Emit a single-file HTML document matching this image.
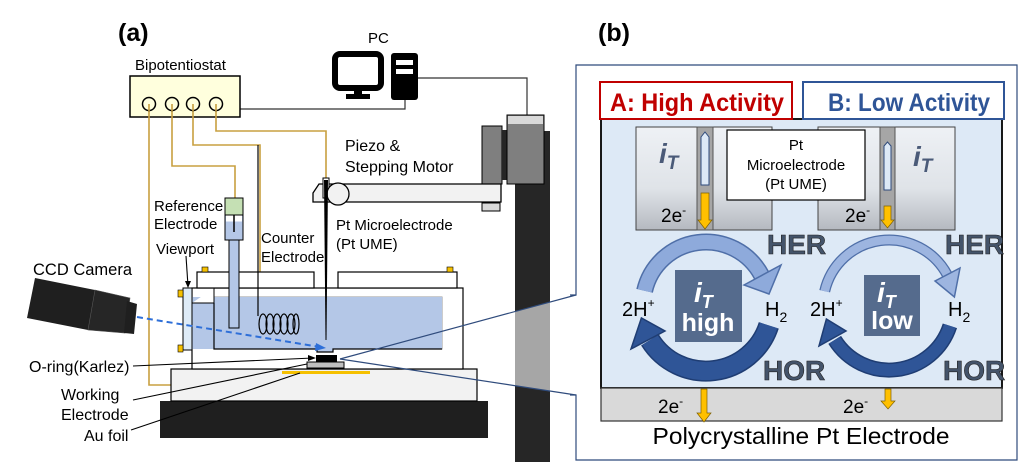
<!DOCTYPE html>
<html><head><meta charset="utf-8"><style>
html,body{margin:0;padding:0;background:#fff;}
svg{display:block;font-family:"Liberation Sans",sans-serif;}
</style></head><body>
<svg width="1032" height="475" viewBox="0 0 1032 475" xmlns="http://www.w3.org/2000/svg">
<defs>
<linearGradient id="ume" x1="0" y1="0" x2="0" y2="1">
<stop offset="0" stop-color="#eef1f5"/><stop offset="0.6" stop-color="#dfe3e8"/><stop offset="1" stop-color="#b5b9c0"/>
</linearGradient>
</defs>
<rect width="1032" height="475" fill="#fff"/>

<!-- ===== Panel (a) ===== -->
<text x="118" y="41" font-size="25" font-weight="bold">(a)</text>
<text x="368" y="43" font-size="15">PC</text>
<rect x="335" y="54" width="46" height="34" rx="5" fill="none" stroke="#000" stroke-width="6"/>
<rect x="354" y="90" width="8" height="6" fill="#000"/>
<rect x="346" y="94" width="24" height="5" fill="#000"/>
<rect x="391" y="53" width="27" height="47" rx="3" fill="#000"/>
<rect x="396" y="60" width="17" height="5" fill="#fff"/>
<rect x="396" y="69" width="17" height="5" fill="#fff"/>
<polyline points="240,109 405,109 405,100" fill="none" stroke="#333" stroke-width="1.2"/>
<polyline points="418,78 527,78 527,115" fill="none" stroke="#333" stroke-width="1.2"/>

<text x="135" y="70" font-size="15">Bipotentiostat</text>
<rect x="130" y="76" width="110" height="41" fill="#ffffdd" stroke="#000" stroke-width="1.5"/>
<g fill="none" stroke="#c8a040" stroke-width="1.6">
<polyline points="149,110 149,385 328,385 328,370"/>
<polyline points="172,110 172,166 235,166 235,198"/>
<polyline points="193,110 193,145 260,145 260,316"/>
<polyline points="216,110 216,131 326,131 326,180"/>
</g>
<g fill="#ffffdd" stroke="#000" stroke-width="1.5">
<circle cx="149" cy="104" r="6.5"/><circle cx="172" cy="104" r="6.5"/>
<circle cx="193" cy="104" r="6.5"/><circle cx="216" cy="104" r="6.5"/>
</g>
<path d="M149 104V111M172 104V111M193 104V111M216 104V111" stroke="#c8a040" stroke-width="1.6"/>

<!-- stand -->
<rect x="515" y="131" width="35" height="331" fill="#262626"/>
<polygon points="515,311.5 550,302 550,391 515,385.7" fill="#a6a6a6"/>
<rect x="482" y="126" width="20" height="58" fill="#7f7f7f" stroke="#000"/>
<rect x="502" y="130" width="6" height="50" fill="#262626"/>
<rect x="507" y="115" width="37" height="69" fill="#7f7f7f" stroke="#000"/>
<rect x="508" y="116" width="35" height="8" fill="#d9d9d9"/>
<path d="M313 193 L319 184 L501 184 L501 202 L313 202 Z" fill="#f2f2f2" stroke="#000" stroke-width="1.3"/>
<rect x="482" y="203" width="18" height="8" fill="#d9d9d9" stroke="#000"/>
<rect x="323" y="178" width="6" height="20" fill="#fff" stroke="#000"/>
<circle cx="338" cy="194" r="11" fill="#f2f2f2" stroke="#000" stroke-width="1.3"/>
<text font-size="16" x="345" y="151">Piezo &amp;</text>
<text font-size="16" x="345" y="172">Stepping Motor</text>

<!-- cell base -->
<rect x="160" y="401" width="328" height="37" fill="#1f1f1f"/>
<rect x="171" y="369" width="306" height="32" fill="#f2f2f2" stroke="#000" stroke-width="1.2"/>
<rect x="192" y="288" width="271" height="81" fill="#fff" stroke="#000" stroke-width="1.2"/>
<rect x="214" y="297" width="228" height="52" fill="#dbe5f3" stroke="#999"/>
<path d="M192 297 H442 V330 H214 V349 H192Z" fill="#b4c7e7"/>
<path d="M214 297 H442 V349 H333 V352 H317 V349 H214Z" fill="#b4c7e7"/>
<path d="M192 303 H214 V288" fill="#fff" stroke="#000"/>
<polyline points="214,303 214,349 317,349 317,352 333,352 333,349 442,349" fill="none" stroke="#000" stroke-width="1.2"/>
<rect x="197" y="272" width="117" height="16" fill="#fff" stroke="#000" stroke-width="1.2"/>
<rect x="338" y="272" width="119" height="16" fill="#fff" stroke="#000" stroke-width="1.2"/>
<rect x="202" y="267" width="6" height="5" fill="#f5c000" stroke="#000" stroke-width="0.6"/>
<rect x="447" y="267" width="6" height="5" fill="#f5c000" stroke="#000" stroke-width="0.6"/>
<rect x="183" y="288" width="9" height="62" fill="#deebf7" stroke="#000"/>
<rect x="178" y="290" width="5" height="7" fill="#f5c000" stroke="#000" stroke-width="0.6"/>
<rect x="178" y="345" width="5" height="7" fill="#f5c000" stroke="#000" stroke-width="0.6"/>
<!-- ref electrode -->
<rect x="225" y="215" width="18" height="25" fill="#b4c7e7" stroke="#000"/>
<rect x="226" y="215.5" width="16" height="6" fill="#fff"/>
<rect x="229" y="240" width="10" height="88" fill="#b4c7e7" stroke="#000"/>
<line x1="234" y1="214" x2="234" y2="232" stroke="#000" stroke-width="1.5"/>
<rect x="225" y="198" width="18" height="17" fill="#c5e0b4" stroke="#000"/>
<!-- counter coil -->
<line x1="258" y1="145" x2="258" y2="316" stroke="#000" stroke-width="1.2"/>
<g fill="none" stroke="#000" stroke-width="1.2">
<ellipse cx="263" cy="324" rx="4" ry="10"/><ellipse cx="270" cy="324" rx="4" ry="10"/>
<ellipse cx="277" cy="324" rx="4" ry="10"/><ellipse cx="284" cy="324" rx="4" ry="10"/>
<ellipse cx="291" cy="324" rx="4" ry="10"/><ellipse cx="296" cy="324" rx="3" ry="10"/>
</g>
<path d="M324 180 L328 180 L326.5 340 L325.5 340Z" fill="#000"/>
<rect x="316" y="355" width="21" height="7" fill="#000"/>
<rect x="307" y="362" width="37" height="6" fill="#bfbfbf" stroke="#000"/>
<rect x="282" y="371" width="88" height="3" fill="#f5c000"/>
<!-- camera -->
<polygon points="35,278 95,290 88,330 27,318" fill="#1f1f1f"/>
<polygon points="95,290 130,298 125,333 88,330" fill="#262626" stroke="#555" stroke-width="0.6"/>
<polygon points="127,301 137,304 134,334 124,333" fill="#1f1f1f"/>
<line x1="137" y1="317" x2="320" y2="347" stroke="#2e6fd8" stroke-width="2" stroke-dasharray="6,4"/>
<polygon points="326,348 316,343 315,351" fill="#2e6fd8"/>
<g font-size="15">
<text x="154" y="211">Reference</text><text x="154" y="229">Electrode</text>
<text x="156" y="254">Viewport</text>
<text x="261" y="243">Counter</text><text x="261" y="262">Electrode</text>
<text x="336" y="230">Pt Microelectrode</text><text x="336" y="249">(Pt UME)</text>
<text x="33" y="275" font-size="16.5">CCD Camera</text>
<text x="29" y="372" font-size="16">O-ring(Karlez)</text>
<text x="61" y="400" font-size="16">Working</text>
<text x="61" y="420" font-size="16">Electrode</text>
<text x="84" y="441" font-size="16">Au foil</text>
</g>
<g stroke="#000" stroke-width="1.1" fill="none">
<line x1="186" y1="256" x2="188" y2="286"/>
<line x1="133" y1="366" x2="313" y2="358"/>
<line x1="133" y1="400" x2="307" y2="364"/>
<line x1="131" y1="430" x2="300" y2="373"/>
</g>
<polygon points="188,288 185,281 191,281" fill="#000"/>
<polygon points="316,358 308,355 308,361" fill="#000"/>
<g stroke="#2f4b7c" stroke-width="1.2" fill="none">
<line x1="340" y1="359" x2="576" y2="295"/>
<line x1="340" y1="359" x2="576" y2="395"/>
<polyline points="570,295 576,295 576,65 1017,65 1017,460 576,460 576,395 570,395"/>
</g>

<!-- ===== Panel (b) ===== -->
<text x="598" y="41" font-size="25" font-weight="bold">(b)</text>
<rect x="601" y="119" width="401" height="269" fill="#dde9f6" stroke="#000" stroke-width="1.8"/>
<rect x="601" y="388" width="401" height="33" fill="#d9d9d9" stroke="#333" stroke-width="1.2"/>
<rect x="600" y="82" width="192" height="37" fill="#fff" stroke="#c00000" stroke-width="2"/>
<rect x="803" y="82" width="201" height="37" fill="#fff" stroke="#2f5597" stroke-width="2"/>
<text x="610" y="111" font-size="25" font-weight="bold" fill="#c00000" textLength="174" lengthAdjust="spacingAndGlyphs">A: High Activity</text>
<text x="828" y="111" font-size="25" font-weight="bold" fill="#2f5597" textLength="162" lengthAdjust="spacingAndGlyphs">B: Low Activity</text>

<rect x="636" y="127" width="136" height="103" fill="url(#ume)" stroke="#444"/>
<rect x="818" y="127" width="137" height="103" fill="url(#ume)" stroke="#444"/>
<rect x="697" y="127" width="16" height="103" fill="#a6a6a6" stroke="#555"/>
<rect x="880" y="127" width="15" height="103" fill="#a6a6a6" stroke="#555"/>
<path d="M701 185 V137 L705 132 L709 137 V185Z" fill="#dde9f6" stroke="#2f4b7c"/>
<path d="M884 190 V146 L887.5 142 L891 146 V190Z" fill="#dde9f6" stroke="#2f4b7c"/>
<path d="M701 193 H709 V220 H712 L705 229 L698 220 H701Z" fill="#ffc000" stroke="#7f6000" stroke-width="0.7"/>
<path d="M884 206 H891 V220 H894 L887.5 228 L881 220 H884Z" fill="#ffc000" stroke="#7f6000" stroke-width="0.7"/>
<rect x="727" y="130" width="138" height="70" fill="#fff" stroke="#000" stroke-width="1.2"/>
<g font-size="15" text-anchor="middle"><text x="796" y="150">Pt</text><text x="796" y="170">Microelectrode</text><text x="796" y="189">(Pt UME)</text></g>
<g font-size="28" font-weight="bold" font-style="italic" fill="#4a5a78">
<text x="659" y="163">i<tspan font-size="19" dy="6">T</tspan></text>
<text x="913" y="166">i<tspan font-size="19" dy="6">T</tspan></text>
</g>
<g font-size="19"><text x="661" y="222">2e<tspan font-size="12" dy="-8">-</tspan></text>
<text x="845" y="222">2e<tspan font-size="12" dy="-8">-</tspan></text></g>

<!-- left cycle (center 706,305) -->
<path d="M644.6 290.8 A63 63 0 0 1 761.6 275.4" fill="none" stroke="#4f6fa8" stroke-width="17"/>
<path d="M644.6 290.8 A63 63 0 0 1 761.6 275.4" fill="none" stroke="#8eaadb" stroke-width="14"/>
<polygon points="744,285 781,265 769,294" fill="#8eaadb" stroke="#4f6fa8" stroke-width="1.5"/>
<path d="M768.8 325.4 A66 66 0 0 1 650 340" fill="none" stroke="#1f3d73" stroke-width="21"/>
<path d="M768.8 325.4 A66 66 0 0 1 650 340" fill="none" stroke="#2f5597" stroke-width="18"/>
<polygon points="665,331 631,349 641.4,318" fill="#2f5597" stroke="#1f3d73" stroke-width="1.5"/>
<rect x="675" y="270" width="67" height="72" fill="#556b8d"/>
<text x="694" y="302" font-size="28" font-weight="bold" font-style="italic" fill="#fff">i<tspan font-size="18" dy="6">T</tspan></text>
<text x="708" y="331" font-size="25" font-weight="bold" fill="#fff" text-anchor="middle">high</text>

<!-- right cycle (center 889,306) -->
<path d="M824.7 291.2 A66 66 0 0 1 947.3 275" fill="none" stroke="#4f6fa8" stroke-width="11"/>
<path d="M824.7 291.2 A66 66 0 0 1 947.3 275" fill="none" stroke="#9db5e0" stroke-width="8.5"/>
<polygon points="935,281 960,268 954.4,297" fill="#9db5e0" stroke="#4f6fa8" stroke-width="1.5"/>
<path d="M949.9 325.8 A64 64 0 0 1 834.7 339.9" fill="none" stroke="#1f3d73" stroke-width="15"/>
<path d="M949.9 325.8 A64 64 0 0 1 834.7 339.9" fill="none" stroke="#2f5597" stroke-width="12"/>
<polygon points="846,331 819,346 826.4,319" fill="#2f5597" stroke="#1f3d73" stroke-width="1.5"/>
<rect x="864" y="275" width="56" height="61" fill="#556b8d"/>
<text x="877" y="302" font-size="28" font-weight="bold" font-style="italic" fill="#fff">i<tspan font-size="18" dy="6">T</tspan></text>
<text x="892" y="329" font-size="25" font-weight="bold" fill="#fff" text-anchor="middle">low</text>

<g font-size="28" font-weight="bold" fill="#44546a" stroke="#222" stroke-width="0.6">
<text x="767" y="254">HER</text><text x="945" y="254">HER</text>
<text x="763" y="380">HOR</text><text x="943" y="380">HOR</text>
</g>
<g font-size="20">
<text x="622" y="316">2H<tspan font-size="12" dy="-9">+</tspan></text>
<text x="765" y="316">H<tspan font-size="14" dy="6">2</tspan></text>
<text x="810" y="316">2H<tspan font-size="12" dy="-9">+</tspan></text>
<text x="948" y="316">H<tspan font-size="14" dy="6">2</tspan></text>
</g>
<g font-size="19"><text x="658" y="413">2e<tspan font-size="12" dy="-8">-</tspan></text>
<text x="843" y="413">2e<tspan font-size="12" dy="-8">-</tspan></text></g>
<path d="M701 389 H707 V413 H711 L704 422 L697 413 H701Z" fill="#ffc000" stroke="#7f6000" stroke-width="0.7"/>
<path d="M885 389 H891 V401 H895 L888 409 L881 401 H885Z" fill="#ffc000" stroke="#7f6000" stroke-width="0.7"/>
<text x="801" y="444" font-size="23" text-anchor="middle" textLength="297" lengthAdjust="spacingAndGlyphs">Polycrystalline Pt Electrode</text>
</svg>
</body></html>
